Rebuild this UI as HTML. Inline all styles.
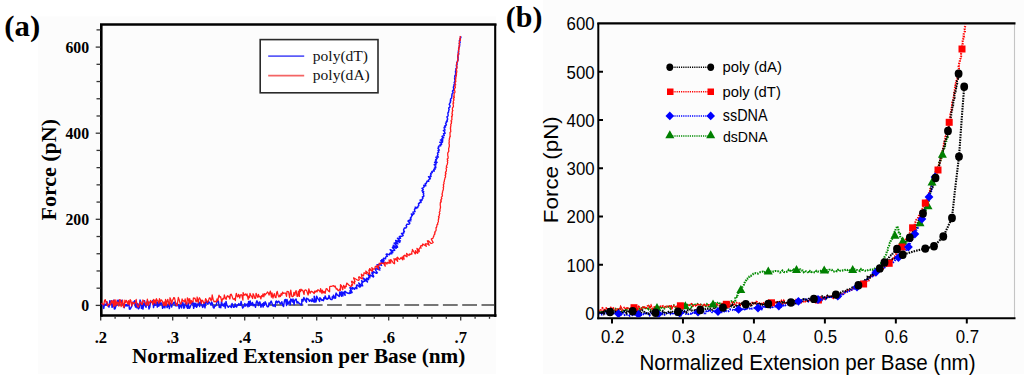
<!DOCTYPE html>
<html><head><meta charset="utf-8"><style>
html,body{margin:0;padding:0;background:#fff;overflow:hidden;}
svg{display:block;}
</style></head><body>
<svg width="1024" height="387" viewBox="0 0 1024 387">
<rect width="1024" height="387" fill="#fff"/>
<rect x="38" y="16.5" width="458" height="357.7" fill="#fcfcfc"/>
<rect x="543" y="0" width="481" height="374.2" fill="#fcfcfc"/>
<g stroke="#000" fill="none">
<line x1="101.3" y1="23.9" x2="101.3" y2="317" stroke-width="2.6"/>
<line x1="100" y1="315.5" x2="496.5" y2="315.5" stroke-width="2.6"/>
<line x1="100" y1="24.5" x2="496.5" y2="24.5" stroke-width="2.4"/>
<line x1="495.2" y1="24" x2="495.2" y2="317" stroke-width="2.1"/>
</g>
<g stroke="#333" fill="none">
<line x1="95.7" y1="305.40" x2="100.5" y2="305.40" stroke-width="1.3"/>
<line x1="96.5" y1="288.18" x2="100.5" y2="288.18" stroke-width="1.3"/>
<line x1="96.5" y1="270.96" x2="100.5" y2="270.96" stroke-width="1.3"/>
<line x1="96.5" y1="253.74" x2="100.5" y2="253.74" stroke-width="1.3"/>
<line x1="96.5" y1="236.52" x2="100.5" y2="236.52" stroke-width="1.3"/>
<line x1="95.7" y1="219.30" x2="100.5" y2="219.30" stroke-width="1.3"/>
<line x1="96.5" y1="202.08" x2="100.5" y2="202.08" stroke-width="1.3"/>
<line x1="96.5" y1="184.86" x2="100.5" y2="184.86" stroke-width="1.3"/>
<line x1="96.5" y1="167.64" x2="100.5" y2="167.64" stroke-width="1.3"/>
<line x1="96.5" y1="150.42" x2="100.5" y2="150.42" stroke-width="1.3"/>
<line x1="95.7" y1="133.20" x2="100.5" y2="133.20" stroke-width="1.3"/>
<line x1="96.5" y1="115.98" x2="100.5" y2="115.98" stroke-width="1.3"/>
<line x1="96.5" y1="98.76" x2="100.5" y2="98.76" stroke-width="1.3"/>
<line x1="96.5" y1="81.54" x2="100.5" y2="81.54" stroke-width="1.3"/>
<line x1="96.5" y1="64.32" x2="100.5" y2="64.32" stroke-width="1.3"/>
<line x1="95.7" y1="47.10" x2="100.5" y2="47.10" stroke-width="1.3"/>
<line x1="96.5" y1="29.88" x2="100.5" y2="29.88" stroke-width="1.3"/>
<line x1="100.70" y1="316.5" x2="100.70" y2="320.5" stroke-width="1.3"/>
<line x1="115.10" y1="316.5" x2="115.10" y2="318.8" stroke-width="1.3"/>
<line x1="129.50" y1="316.5" x2="129.50" y2="318.8" stroke-width="1.3"/>
<line x1="143.90" y1="316.5" x2="143.90" y2="318.8" stroke-width="1.3"/>
<line x1="158.30" y1="316.5" x2="158.30" y2="318.8" stroke-width="1.3"/>
<line x1="172.70" y1="316.5" x2="172.70" y2="320.5" stroke-width="1.3"/>
<line x1="187.10" y1="316.5" x2="187.10" y2="318.8" stroke-width="1.3"/>
<line x1="201.50" y1="316.5" x2="201.50" y2="318.8" stroke-width="1.3"/>
<line x1="215.90" y1="316.5" x2="215.90" y2="318.8" stroke-width="1.3"/>
<line x1="230.30" y1="316.5" x2="230.30" y2="318.8" stroke-width="1.3"/>
<line x1="244.70" y1="316.5" x2="244.70" y2="320.5" stroke-width="1.3"/>
<line x1="259.10" y1="316.5" x2="259.10" y2="318.8" stroke-width="1.3"/>
<line x1="273.50" y1="316.5" x2="273.50" y2="318.8" stroke-width="1.3"/>
<line x1="287.90" y1="316.5" x2="287.90" y2="318.8" stroke-width="1.3"/>
<line x1="302.30" y1="316.5" x2="302.30" y2="318.8" stroke-width="1.3"/>
<line x1="316.70" y1="316.5" x2="316.70" y2="320.5" stroke-width="1.3"/>
<line x1="331.10" y1="316.5" x2="331.10" y2="318.8" stroke-width="1.3"/>
<line x1="345.50" y1="316.5" x2="345.50" y2="318.8" stroke-width="1.3"/>
<line x1="359.90" y1="316.5" x2="359.90" y2="318.8" stroke-width="1.3"/>
<line x1="374.30" y1="316.5" x2="374.30" y2="318.8" stroke-width="1.3"/>
<line x1="388.70" y1="316.5" x2="388.70" y2="320.5" stroke-width="1.3"/>
<line x1="403.10" y1="316.5" x2="403.10" y2="318.8" stroke-width="1.3"/>
<line x1="417.50" y1="316.5" x2="417.50" y2="318.8" stroke-width="1.3"/>
<line x1="431.90" y1="316.5" x2="431.90" y2="318.8" stroke-width="1.3"/>
<line x1="446.30" y1="316.5" x2="446.30" y2="318.8" stroke-width="1.3"/>
<line x1="460.70" y1="316.5" x2="460.70" y2="320.5" stroke-width="1.3"/>
<line x1="475.10" y1="316.5" x2="475.10" y2="318.8" stroke-width="1.3"/>
<line x1="489.50" y1="316.5" x2="489.50" y2="318.8" stroke-width="1.3"/>
</g>
<line x1="103" y1="305" x2="494" y2="305" stroke="#767676" stroke-width="1.9" stroke-dasharray="14.8 4.5" stroke-dashoffset="7.5"/>
<path d="M101.50,304.50 L102.26,304.06 L103.01,305.05 L103.75,308.41 L104.52,304.19 L105.27,304.58 L106.03,305.32 L106.79,301.61 L107.54,304.63 L108.29,305.71 L109.04,307.21 L109.81,300.79 L110.56,302.71 L111.32,300.76 L112.06,307.38 L112.82,306.31 L113.59,300.32 L114.32,308.97 L115.08,308.81 L115.84,305.95 L116.60,305.60 L117.36,301.39 L118.12,300.08 L118.86,304.81 L119.63,300.49 L120.38,301.70 L121.13,302.18 L121.89,300.23 L122.64,304.22 L123.39,304.01 L124.14,307.71 L124.90,304.74 L125.65,305.85 L126.41,304.56 L127.16,306.06 L127.92,304.18 L128.68,302.53 L129.42,309.15 L130.17,309.13 L130.93,307.71 L131.69,306.49 L132.46,302.88 L133.21,302.10 L133.97,302.64 L134.73,300.63 L135.46,307.04 L136.23,303.67 L136.97,307.78 L137.74,303.55 L138.48,308.81 L139.24,307.79 L140.05,300.01 L140.80,301.94 L141.44,308.40 L142.27,304.36 L142.94,309.07 L143.79,303.72 L144.60,300.75 L145.26,305.88 L145.99,307.27 L146.83,302.60 L147.61,300.93 L148.33,303.21 L148.98,309.03 L149.77,307.15 L150.63,301.27 L151.36,302.47 L152.14,301.14 L152.90,300.78 L153.54,307.57 L154.39,301.89 L155.08,305.41 L155.86,304.39 L156.65,302.05 L157.32,307.04 L158.17,301.52 L158.84,306.25 L159.68,301.42 L160.39,304.39 L161.17,302.90 L161.92,303.33 L162.58,308.39 L163.36,307.19 L164.18,303.61 L164.86,307.81 L165.70,302.97 L166.43,304.30 L167.13,307.63 L167.91,306.11 L168.73,302.22 L169.37,308.64 L170.22,303.06 L170.97,303.40 L171.66,307.12 L172.47,303.94 L173.23,303.71 L174.02,302.12 L174.77,302.26 L175.46,305.82 L176.26,303.38 L176.97,305.98 L177.75,304.34 L178.50,304.94 L179.19,308.59 L180.00,305.18 L180.77,305.82 L181.56,307.91 L182.22,302.97 L182.97,302.75 L183.83,308.16 L184.57,307.50 L185.25,303.39 L185.99,302.95 L186.83,306.89 L187.61,308.32 L188.26,302.95 L189.12,308.36 L189.87,307.85 L190.58,305.83 L191.31,304.51 L192.02,302.21 L192.76,301.72 L193.65,308.36 L194.30,303.13 L195.12,306.47 L195.81,303.23 L196.65,307.30 L197.37,305.65 L198.08,303.45 L198.82,302.59 L199.65,306.49 L200.32,301.79 L201.09,302.92 L201.90,305.29 L202.69,307.38 L203.41,305.65 L204.12,303.23 L204.97,307.81 L205.62,302.66 L206.35,301.29 L207.14,303.10 L207.92,304.35 L208.62,301.56 L209.39,302.38 L210.17,303.75 L210.95,305.20 L211.65,302.01 L212.43,303.66 L213.26,307.45 L214.03,308.08 L214.74,305.74 L215.50,305.97 L216.24,305.18 L216.93,301.97 L217.67,301.20 L218.42,301.06 L219.30,307.47 L220.02,305.95 L220.77,307.83 L221.49,301.05 L222.27,305.47 L223.02,304.36 L223.78,306.14 L224.52,303.17 L225.30,308.07 L226.02,301.41 L226.79,304.80 L227.56,306.17 L228.32,307.34 L229.07,306.16 L229.82,305.92 L230.58,306.56 L231.34,307.43 L232.07,303.37 L232.84,305.77 L233.60,307.32 L234.35,307.10 L235.09,303.83 L235.86,306.51 L236.62,307.03 L237.36,304.94 L238.12,305.31 L238.86,303.56 L239.63,305.00 L240.38,305.18 L241.12,301.37 L241.89,305.39 L242.66,307.94 L243.41,307.12 L244.16,306.02 L244.90,303.57 L245.67,306.06 L246.42,304.95 L247.17,303.94 L247.94,306.80 L248.66,301.36 L249.44,306.15 L250.17,300.96 L250.95,305.07 L251.70,304.20 L252.44,302.40 L253.21,305.76 L253.96,304.31 L254.72,305.15 L255.49,307.35 L256.22,302.56 L256.96,300.80 L257.73,302.88 L258.50,305.59 L259.23,302.16 L259.93,301.92 L260.92,307.17 L261.58,305.36 L262.24,303.75 L263.18,306.94 L263.70,302.84 L264.60,305.23 L265.16,301.83 L266.01,303.46 L266.92,306.11 L267.72,306.84 L268.46,306.56 L269.01,302.95 L269.85,304.33 L270.49,302.37 L271.17,301.03 L272.07,303.58 L272.97,305.99 L273.73,306.03 L274.43,304.99 L275.28,306.67 L275.76,301.78 L276.47,300.97 L277.34,302.95 L278.02,301.64 L278.75,301.16 L279.59,302.55 L280.43,304.03 L281.13,303.04 L281.81,301.71 L282.78,305.44 L283.60,306.42 L284.13,302.57 L284.73,299.81 L285.47,299.46 L286.57,305.46 L286.98,299.44 L288.01,304.19 L288.71,303.16 L289.36,301.23 L290.31,304.66 L290.74,299.06 L291.55,299.86 L292.43,302.11 L293.01,298.97 L294.10,304.72 L294.61,300.42 L295.32,299.68 L296.04,298.96 L297.03,303.10 L297.71,301.75 L298.54,303.02 L299.31,303.16 L300.31,304.19 L301.48,305.05 L301.82,302.96 L301.84,299.38 L303.04,301.15 L303.35,298.89 L303.86,297.54 L305.34,300.62 L306.49,302.15 L306.43,298.22 L307.34,298.71 L308.22,299.05 L309.54,301.36 L310.03,299.94 L310.88,300.51 L311.79,301.41 L312.20,298.72 L313.37,301.45 L314.25,302.16 L314.20,296.21 L315.82,302.13 L316.38,300.52 L316.55,296.19 L317.65,298.39 L318.59,299.51 L319.64,301.43 L319.90,297.67 L320.83,298.70 L321.85,300.44 L322.55,299.84 L323.45,300.61 L323.82,297.65 L324.74,298.65 L325.14,295.89 L326.34,298.86 L327.19,299.32 L327.81,298.16 L328.64,298.51 L328.99,295.40 L330.43,299.36 L331.37,299.65 L332.11,299.46 L332.26,296.72 L333.34,298.04 L333.45,295.12 L334.97,298.40 L335.64,297.92 L335.70,294.78 L336.09,293.06 L337.30,294.99 L338.19,295.46 L339.21,296.57 L339.58,294.76 L339.71,291.91 L341.48,296.31 L341.23,291.78 L342.94,295.92 L342.85,292.09 L343.81,292.87 L345.14,295.35 L344.67,291.51 L345.01,291.31 L346.85,292.76 L348.16,293.39 L349.18,293.57 L349.34,292.40 L350.81,293.28 L350.00,290.57 L352.12,292.47 L349.98,287.69 L351.06,287.97 L352.69,289.10 L352.57,287.49 L354.63,289.29 L354.99,288.43 L355.26,287.43 L356.94,288.64 L356.67,286.79 L356.52,285.12 L357.39,285.06 L359.53,287.00 L360.36,286.86 L358.77,282.95 L361.49,285.79 L362.66,285.87 L361.68,283.23 L362.45,282.97 L361.61,280.77 L363.47,281.83 L363.93,281.20 L364.90,281.19 L363.28,278.03 L367.46,281.90 L366.31,279.32 L366.45,278.31 L368.57,279.67 L368.24,278.09 L368.55,277.28 L369.90,277.72 L368.09,274.34 L370.48,276.05 L370.59,274.98 L373.25,277.01 L373.70,276.37 L371.78,272.87 L373.15,273.33 L372.41,271.24 L374.16,272.18 L376.36,273.32 L377.37,272.88 L375.84,270.70 L375.56,269.51 L375.44,268.44 L377.93,269.41 L379.85,269.94 L376.56,266.39 L380.11,268.19 L377.01,264.79 L378.29,264.82 L378.92,264.33 L381.57,265.43 L380.32,263.47 L380.95,262.99 L382.67,263.36 L380.71,260.85 L384.14,262.56 L381.74,259.71 L384.05,260.54 L383.28,258.98 L383.50,258.17 L385.56,258.76 L385.58,257.80 L385.76,256.96 L386.41,256.48 L387.43,256.28 L386.14,254.32 L386.82,253.87 L389.33,254.80 L389.84,254.21 L389.79,253.20 L391.79,253.75 L391.12,252.26 L392.76,252.53 L390.25,249.65 L393.17,250.85 L393.96,250.44 L394.85,250.14 L392.41,247.49 L392.84,246.86 L396.27,248.33 L393.24,245.28 L397.51,247.34 L397.40,246.33 L394.14,243.12 L395.09,242.85 L397.93,243.90 L396.07,241.67 L395.71,240.49 L399.76,242.39 L398.18,240.36 L400.47,240.93 L397.43,238.22 L399.26,238.38 L400.59,238.26 L399.35,236.66 L400.18,236.25 L401.73,236.25 L402.67,235.90 L403.19,235.32 L401.49,233.47 L402.82,233.34 L403.82,233.03 L403.58,232.00 L404.40,231.59 L403.58,230.23 L403.67,229.40 L404.14,228.79 L404.35,228.02 L405.98,228.07 L406.27,227.35 L406.79,226.76 L406.12,225.54 L406.55,224.90 L406.94,224.21 L408.89,224.28 L409.61,223.75 L409.80,222.96 L408.04,221.23 L408.30,220.48 L410.89,220.85 L410.00,219.54 L411.11,219.20 L410.34,217.95 L411.04,217.41 L411.51,216.76 L411.64,215.94 L412.41,215.44 L411.29,213.96 L413.38,214.21 L414.11,213.73 L412.89,212.13 L413.94,211.84 L415.02,211.56 L414.60,210.42 L414.47,209.45 L414.79,208.73 L416.02,208.54 L415.20,207.17 L417.72,207.72 L417.88,206.92 L418.03,206.11 L418.80,205.65 L418.63,204.66 L418.47,203.67 L419.33,203.26 L419.49,202.45 L421.04,202.43 L421.00,201.50 L420.06,200.06 L422.04,200.29 L422.02,199.38 L422.50,198.75 L422.97,198.12 L422.35,196.92 L423.78,196.33 L423.80,195.56 L423.35,194.74 L423.62,193.99 L423.69,193.22 L422.75,192.36 L423.71,191.67 L421.96,190.74 L422.78,190.04 L423.21,189.30 L422.00,188.42 L423.03,187.73 L423.87,187.13 L424.20,186.55 L423.69,185.32 L425.77,185.76 L425.53,184.71 L425.16,183.57 L426.33,183.42 L426.53,182.65 L426.85,181.96 L426.92,181.11 L428.77,181.39 L428.34,180.21 L428.89,179.65 L429.45,179.09 L430.39,178.76 L428.55,176.66 L430.36,176.90 L431.07,176.43 L430.35,175.05 L431.11,174.62 L430.70,173.43 L431.46,173.00 L432.29,172.65 L431.78,171.72 L432.43,171.15 L434.41,171.04 L433.71,170.01 L433.85,169.26 L435.31,168.97 L434.50,167.90 L435.87,167.58 L435.17,166.54 L435.87,165.99 L434.16,164.67 L435.74,164.31 L436.36,163.66 L434.58,162.46 L437.17,162.27 L435.25,161.03 L436.27,160.48 L435.62,159.54 L436.69,159.00 L437.18,158.32 L435.85,157.22 L438.44,157.03 L437.18,155.95 L437.65,155.27 L438.02,154.56 L437.56,153.66 L437.52,152.86 L438.70,152.35 L438.62,151.54 L438.03,150.61 L439.39,150.15 L438.47,149.10 L437.93,148.14 L438.76,147.57 L438.44,146.67 L438.96,146.02 L440.78,145.75 L440.02,144.72 L441.60,144.38 L441.41,143.52 L439.75,142.23 L442.49,142.22 L442.59,141.44 L440.46,140.02 L442.92,139.93 L441.85,138.82 L442.20,138.11 L443.75,137.76 L442.00,136.44 L442.97,135.92 L444.30,135.50 L443.94,134.59 L443.47,133.65 L445.06,133.31 L444.84,132.44 L444.48,131.53 L443.38,130.41 L444.97,130.07 L444.73,129.19 L444.27,128.25 L444.08,127.39 L445.58,127.02 L444.61,126.06 L445.63,125.49 L446.39,124.86 L445.94,124.01 L445.55,123.17 L446.57,122.59 L446.27,121.77 L447.40,121.21 L446.86,120.34 L447.50,119.70 L447.59,118.95 L447.47,118.16 L447.03,117.30 L447.02,116.53 L448.08,115.97 L448.10,115.20 L448.05,114.42 L447.88,113.62 L447.92,112.86 L448.55,112.21 L448.55,111.45 L448.72,110.71 L448.91,109.98 L449.19,109.26 L448.67,108.40 L448.88,107.67 L449.88,107.09 L449.95,106.33 L450.04,105.60 L449.24,104.63 L449.44,103.90 L449.86,103.22 L450.22,102.53 L450.62,101.84 L450.19,100.96 L450.88,100.34 L450.51,99.48 L450.70,98.74 L451.57,98.17 L451.60,97.40 L451.87,96.68 L451.74,95.87 L452.04,95.16 L451.91,94.35 L452.24,93.65 L452.88,93.02 L453.17,92.31 L452.45,91.36 L452.68,90.63 L453.66,90.07 L453.55,89.28 L453.83,88.56 L453.28,87.72 L453.63,87.02 L453.54,86.24 L454.30,85.60 L453.88,84.78 L454.33,84.08 L454.83,83.40 L454.15,82.54 L454.52,81.84 L454.86,81.13 L455.17,80.41 L454.69,79.59 L454.73,78.84 L454.51,78.05 L455.54,77.43 L454.70,76.56 L454.81,75.82 L455.49,75.15 L455.50,74.40 L455.85,73.69 L455.49,72.88 L456.16,72.22 L455.44,71.36 L455.71,70.64 L456.35,69.97 L455.76,69.13 L456.13,68.42 L456.74,67.75 L456.81,67.00 L456.42,66.19 L456.36,65.43 L456.73,64.72 L457.27,64.04 L456.94,63.22 L456.73,62.43 L457.53,61.76 L457.46,60.98 L457.97,60.28 L458.09,59.52 L458.15,58.76 L457.68,57.94 L458.21,57.23 L457.71,56.40 L457.82,55.65 L458.02,54.90 L458.75,54.23 L458.79,53.46 L458.12,52.61 L458.35,51.87 L458.45,51.12 L458.54,50.36 L458.67,49.61 L458.76,48.85 L458.62,48.06 L459.16,47.36 L459.53,46.64 L459.32,45.84 L459.77,45.13 L459.53,44.33 L459.17,43.52 L459.96,42.85 L460.20,42.11 L459.58,41.26 L459.36,40.47 L460.05,39.79 L460.17,39.03 L460.30,38.28 L460.87,37.58 L460.59,36.78 L460.50,36.00" fill="none" stroke="#1010ff" stroke-width="1.45" stroke-linejoin="round"/>
<path d="M101.50,303.50 L102.25,303.29 L103.02,304.75 L103.78,304.81 L104.50,300.62 L105.24,299.56 L106.02,302.46 L106.77,301.65 L107.56,305.94 L108.31,304.97 L109.06,304.25 L109.81,303.90 L110.57,304.72 L111.29,300.59 L112.06,302.94 L112.80,300.71 L113.60,306.65 L114.31,299.87 L115.11,305.94 L115.82,299.99 L116.61,304.88 L117.34,302.07 L118.10,302.61 L118.88,306.10 L119.59,299.51 L120.35,299.84 L121.15,306.67 L121.88,303.41 L122.61,300.06 L123.42,307.23 L124.17,306.90 L124.88,300.22 L125.65,302.70 L126.39,300.39 L127.15,301.80 L127.93,304.27 L128.66,300.60 L129.44,304.86 L130.16,299.69 L130.92,300.64 L131.72,305.79 L132.44,302.46 L133.20,302.60 L133.97,304.01 L134.71,303.06 L135.46,302.31 L136.20,299.47 L136.99,305.03 L137.76,306.96 L138.52,307.02 L139.26,304.51 L139.97,302.05 L140.70,302.07 L141.59,304.64 L142.33,304.48 L142.86,299.96 L143.67,300.89 L144.47,301.88 L145.29,303.03 L146.16,305.38 L146.79,302.86 L147.36,299.05 L148.43,305.36 L149.03,302.19 L149.82,302.86 L150.46,300.45 L151.29,302.05 L152.03,301.70 L152.94,304.73 L153.43,299.35 L154.36,302.88 L154.97,299.87 L155.93,303.97 L156.42,298.67 L157.27,300.55 L158.05,301.05 L158.92,303.35 L159.44,298.64 L160.36,301.86 L161.02,299.82 L161.80,300.36 L162.63,301.88 L163.58,305.70 L164.14,301.84 L165.09,305.60 L165.53,299.26 L166.58,305.27 L167.12,300.76 L167.80,299.32 L168.78,303.75 L169.60,305.02 L169.99,297.75 L170.85,299.80 L171.81,303.78 L172.39,300.31 L173.10,299.47 L173.77,297.58 L174.53,297.79 L175.52,302.38 L176.42,305.25 L177.18,305.33 L177.74,301.34 L178.30,297.47 L179.17,299.82 L180.14,303.49 L180.95,303.79 L181.59,302.20 L182.11,298.88 L183.03,301.20 L183.76,300.75 L184.60,301.89 L185.15,298.92 L186.30,304.33 L187.02,303.85 L187.35,297.96 L188.18,298.93 L189.27,303.52 L189.68,298.72 L190.82,303.98 L191.33,300.50 L192.19,301.89 L192.95,301.90 L193.42,297.93 L194.22,298.45 L194.95,298.15 L195.96,301.51 L196.72,301.54 L197.15,297.00 L198.34,302.97 L198.82,299.20 L199.47,297.71 L200.34,299.21 L201.41,303.49 L201.92,300.09 L202.71,300.55 L203.64,302.85 L204.42,303.14 L205.06,301.47 L205.61,298.68 L206.47,299.99 L207.40,302.43 L208.09,301.48 L208.73,299.76 L209.35,297.85 L210.11,297.96 L211.08,300.84 L211.73,299.41 L212.17,294.99 L213.33,300.47 L214.20,301.96 L214.89,301.06 L215.70,301.80 L216.46,301.85 L217.00,298.80 L217.90,300.77 L218.42,297.45 L219.01,295.15 L219.91,297.13 L220.64,296.74 L221.78,301.64 L222.38,299.63 L223.04,298.40 L223.85,298.98 L224.30,294.96 L225.30,298.16 L226.16,299.43 L226.73,296.93 L227.39,295.69 L228.24,296.91 L228.95,296.19 L229.93,299.02 L230.34,294.62 L231.07,294.16 L231.96,295.87 L232.95,298.87 L233.75,299.32 L234.44,298.46 L235.36,300.60 L235.77,296.00 L236.31,293.26 L237.35,296.86 L238.08,296.45 L238.67,294.28 L239.73,298.11 L240.28,295.45 L240.97,294.58 L241.78,295.23 L242.92,300.09 L243.09,292.56 L244.06,295.31 L244.77,294.61 L245.48,293.93 L246.37,295.71 L247.00,293.96 L248.18,299.48 L248.68,296.09 L249.56,297.60 L249.98,293.27 L250.92,295.62 L251.76,296.69 L252.66,298.52 L253.05,293.73 L253.94,295.35 L254.94,298.44 L255.68,298.20 L256.06,293.32 L257.00,295.74 L257.90,297.46 L258.43,294.48 L259.35,296.64 L260.08,296.50 L260.93,298.94 L261.53,295.56 L262.33,296.54 L262.96,293.86 L263.86,296.88 L264.46,293.56 L265.28,294.95 L265.98,293.80 L266.72,293.34 L267.41,291.93 L268.20,292.61 L269.07,295.12 L269.72,292.75 L270.39,291.07 L271.44,297.09 L271.99,292.91 L273.00,298.08 L273.62,295.34 L274.30,293.63 L275.24,297.46 L276.00,297.62 L276.54,292.98 L277.22,291.39 L278.17,295.47 L279.00,297.04 L279.66,295.13 L280.49,296.50 L281.10,293.50 L281.93,295.10 L282.55,292.23 L283.36,293.34 L284.11,293.09 L284.86,293.10 L285.62,293.18 L286.53,296.40 L287.04,291.27 L287.81,291.52 L288.59,291.88 L289.61,297.57 L290.20,293.95 L290.77,290.16 L291.83,296.37 L292.59,296.64 L293.33,296.19 L293.91,292.46 L294.81,295.43 L295.40,291.96 L296.09,290.58 L297.12,296.36 L297.86,296.07 L298.38,291.06 L299.39,296.37 L299.62,289.52 L300.54,291.67 L300.96,289.22 L301.92,290.35 L302.68,290.17 L304.10,294.43 L304.37,291.00 L305.02,290.04 L305.78,289.88 L306.70,290.77 L308.12,295.01 L308.59,292.88 L308.76,288.77 L310.21,293.26 L310.81,291.98 L311.48,291.18 L312.34,291.70 L313.24,292.57 L314.18,293.64 L314.62,291.20 L315.53,292.12 L316.12,290.68 L317.07,291.89 L317.57,289.84 L318.37,289.94 L319.25,290.64 L320.24,292.10 L320.52,288.54 L322.01,293.55 L322.30,290.01 L323.47,292.79 L324.06,291.37 L325.12,293.37 L325.59,291.09 L326.07,288.96 L326.82,288.68 L327.81,290.18 L328.74,291.23 L329.61,291.79 L329.69,286.80 L330.41,286.29 L331.22,286.45 L331.97,286.20 L332.73,285.92 L333.46,285.53 L334.44,286.85 L335.10,285.93 L336.36,289.22 L337.07,288.70 L338.14,290.67 L338.91,290.53 L339.51,289.15 L340.45,290.24 L340.45,284.66 L341.40,285.73 L342.76,289.77 L343.15,286.98 L343.70,285.28 L344.94,288.44 L345.34,286.37 L346.29,286.59 L346.18,285.02 L346.58,284.22 L346.71,283.02 L349.08,285.19 L350.88,286.49 L351.64,286.23 L351.55,284.69 L352.75,285.10 L351.50,281.82 L351.93,281.07 L354.66,283.77 L354.23,281.72 L355.10,281.64 L353.57,277.93 L354.93,278.58 L356.42,279.42 L357.89,280.23 L358.85,280.27 L359.27,279.50 L358.53,276.99 L359.32,276.77 L361.56,278.74 L362.57,278.98 L361.61,276.03 L361.36,274.14 L363.35,275.95 L363.73,275.10 L363.85,273.81 L364.09,272.74 L365.23,273.14 L366.59,273.90 L365.74,271.02 L367.68,272.74 L369.61,274.46 L369.62,273.00 L368.75,270.07 L369.92,270.53 L369.59,268.51 L372.22,271.37 L372.55,270.44 L371.78,267.68 L373.60,269.21 L374.40,269.06 L375.00,268.57 L375.04,267.15 L375.48,266.40 L376.27,266.24 L378.93,269.14 L377.51,265.32 L378.70,265.81 L379.22,265.19 L379.23,263.20 L380.59,264.21 L381.03,262.88 L381.97,263.35 L382.79,263.41 L383.51,263.10 L385.20,266.30 L384.93,262.38 L385.73,262.38 L387.00,264.06 L387.34,262.34 L388.28,262.82 L389.23,263.38 L389.07,259.85 L390.77,263.11 L390.62,259.60 L391.49,260.29 L393.45,263.09 L394.58,263.76 L394.50,261.72 L393.96,258.66 L395.30,259.81 L395.61,258.65 L397.67,261.40 L396.87,257.76 L397.47,257.25 L399.24,259.36 L399.93,259.05 L400.51,258.48 L400.92,257.56 L402.79,259.88 L402.26,256.83 L404.12,259.14 L403.47,255.85 L404.34,255.94 L404.77,255.05 L406.34,256.69 L407.12,256.58 L406.57,253.46 L407.97,254.72 L409.17,255.50 L409.32,253.95 L410.42,254.52 L411.01,253.96 L411.95,254.18 L411.78,251.90 L412.37,251.32 L412.39,249.46 L415.20,253.89 L415.66,253.03 L415.39,250.52 L417.50,253.37 L418.05,252.70 L416.92,248.27 L419.30,251.71 L418.99,249.12 L419.43,248.22 L420.00,247.61 L421.09,248.14 L420.39,246.14 L420.45,245.96 L421.25,245.64 L422.62,245.80 L422.44,244.63 L422.78,243.91 L426.30,246.31 L425.31,243.75 L426.37,243.86 L427.43,243.98 L429.19,245.22 L427.36,240.79 L428.33,240.76 L431.06,243.51 L431.92,243.32 L433.21,242.55 L431.80,240.18 L431.27,239.05 L432.05,238.56 L433.05,238.18 L433.26,237.42 L433.41,236.62 L433.97,236.03 L433.84,235.09 L434.43,234.51 L435.01,233.89 L434.47,232.92 L435.18,232.34 L434.99,231.49 L435.84,230.94 L436.06,230.21 L436.10,229.43 L436.12,228.64 L435.95,227.78 L436.63,227.19 L436.72,226.42 L436.98,225.70 L436.89,224.90 L437.86,224.31 L437.61,223.47 L437.80,222.70 L438.22,221.99 L438.42,221.23 L438.23,220.39 L438.37,219.62 L438.81,218.91 L438.49,218.05 L439.15,217.38 L438.44,216.45 L439.34,215.82 L439.23,215.00 L439.42,214.24 L439.89,213.51 L439.22,212.63 L439.51,211.88 L440.00,211.15 L440.04,210.36 L439.92,209.56 L440.27,208.81 L440.28,208.02 L440.57,207.27 L440.45,206.46 L440.26,205.65 L440.29,204.86 L440.19,204.06 L440.33,203.29 L440.35,202.50 L441.37,201.84 L440.64,200.95 L441.23,200.27 L440.90,199.44 L441.85,198.83 L441.55,198.01 L441.33,197.19 L442.10,196.56 L442.26,195.81 L442.51,195.08 L441.90,194.20 L442.20,193.48 L442.59,192.78 L442.35,191.96 L442.76,191.26 L443.02,190.53 L443.20,189.79 L443.40,189.06 L443.46,188.29 L443.13,187.46 L443.72,186.79 L443.53,185.99 L443.40,185.20 L443.37,184.42 L444.08,183.77 L443.95,182.98 L443.81,182.19 L444.32,181.50 L444.37,180.74 L444.40,179.97 L444.76,179.26 L444.85,178.51 L444.97,177.75 L445.54,177.08 L445.58,176.31 L445.10,175.47 L445.79,174.81 L445.36,173.97 L446.10,173.32 L445.35,172.43 L445.73,171.72 L446.45,171.07 L446.31,170.28 L446.48,169.53 L446.10,168.70 L446.14,167.94 L447.09,167.32 L446.33,166.43 L446.56,165.70 L446.93,164.99 L447.39,164.28 L447.33,163.51 L447.72,162.79 L447.58,162.01 L447.31,161.22 L447.86,160.51 L447.35,159.70 L447.16,158.92 L448.14,158.25 L448.13,157.49 L447.99,156.71 L447.89,155.94 L447.69,155.16 L447.78,154.41 L447.70,153.64 L447.80,152.88 L448.26,152.17 L448.75,151.45 L448.86,150.70 L448.52,149.91 L448.76,149.17 L448.63,148.39 L449.01,147.67 L449.02,146.91 L449.37,146.18 L449.31,145.41 L449.21,144.64 L449.20,143.88 L448.86,143.08 L449.24,142.36 L449.29,141.60 L449.07,140.81 L449.19,140.06 L449.48,139.33 L449.32,138.55 L449.84,137.84 L449.62,137.06 L450.35,136.37 L450.13,135.58 L450.04,134.81 L450.03,134.05 L450.06,133.29 L449.95,132.52 L450.78,131.84 L450.81,131.08 L450.62,130.30 L450.70,129.54 L450.27,128.74 L450.74,128.02 L450.44,127.23 L450.67,126.49 L451.01,125.76 L450.67,124.97 L450.82,124.21 L451.39,123.50 L451.23,122.72 L451.72,122.00 L451.07,121.16 L451.09,120.39 L452.01,119.72 L451.77,118.92 L451.94,118.17 L451.88,117.40 L451.56,116.59 L452.47,115.92 L452.07,115.11 L452.56,114.39 L451.89,113.55 L452.10,112.80 L452.45,112.07 L452.24,111.28 L452.93,110.58 L452.41,109.76 L452.32,108.98 L452.48,108.22 L452.67,107.48 L453.43,106.79 L453.44,106.02 L453.32,105.24 L453.16,104.45 L452.86,103.65 L453.73,102.97 L453.11,102.13 L453.26,101.38 L453.58,100.65 L454.09,99.93 L453.49,99.10 L453.46,98.32 L454.38,97.65 L453.57,96.79 L454.37,96.11 L453.86,95.29 L454.10,94.54 L454.10,93.77 L454.41,93.04 L454.97,92.33 L454.97,91.56 L454.75,90.76 L454.39,89.96 L454.54,89.21 L454.73,88.45 L455.29,87.73 L455.47,86.98 L454.65,86.14 L455.02,85.40 L455.71,84.69 L454.97,83.85 L454.96,83.08 L455.21,82.33 L455.90,81.62 L455.34,80.80 L455.86,80.08 L455.33,79.26 L455.93,78.54 L455.51,77.74 L455.99,77.01 L456.21,76.26 L456.41,75.50 L456.03,74.70 L456.64,73.98 L456.13,73.17 L456.74,72.45 L456.77,71.68 L456.91,70.92 L456.09,70.08 L456.32,69.33 L456.81,68.60 L457.06,67.86 L456.50,67.04 L457.07,66.32 L456.85,65.53 L456.44,64.72 L456.59,63.96 L456.61,63.18 L456.92,62.45 L457.71,61.78 L457.56,61.00 L457.83,60.26 L457.98,59.51 L457.56,58.69 L457.95,57.97 L458.00,57.21 L458.14,56.46 L457.64,55.63 L458.52,54.97 L457.89,54.12 L458.27,53.40 L458.61,52.67 L458.76,51.92 L458.93,51.18 L458.52,50.36 L458.60,49.60 L459.12,48.89 L458.54,48.05 L459.45,47.40 L458.99,46.57 L459.16,45.82 L459.18,45.06 L459.67,44.35 L459.23,43.53 L459.29,42.77 L459.31,42.00 L459.47,41.25 L460.05,40.56 L460.51,39.84 L459.63,38.97 L460.18,38.27 L460.17,37.50 L460.22,36.73 L460.50,36.00" fill="none" stroke="#ff1a1a" stroke-width="1.25" stroke-linejoin="round"/>
<rect x="260.2" y="39.6" width="117.8" height="53.2" fill="#fff" stroke="#2a2a2a" stroke-width="1.6"/>
<line x1="268.2" y1="56.1" x2="304.2" y2="56.1" stroke="#5c5cf8" stroke-width="1.7"/>
<line x1="268.2" y1="75.6" x2="304.2" y2="75.6" stroke="#f46464" stroke-width="1.7"/>
<text transform="matrix(0.15559 0 0 0.14778 312.789 60.797)" font-family="Liberation Serif" font-weight="normal" font-size="100" fill="#111">poly(dT)</text>
<text transform="matrix(0.15556 0 0 0.15111 312.789 80.027)" font-family="Liberation Serif" font-weight="normal" font-size="100" fill="#111">poly(dA)</text>
<text transform="matrix(0.15800 0 0 0.17400 81.232 311.081)" font-family="Liberation Serif" font-weight="bold" font-size="100" fill="#000">0</text>
<text transform="matrix(0.15800 0 0 0.17400 65.432 224.981)" font-family="Liberation Serif" font-weight="bold" font-size="100" fill="#000">200</text>
<text transform="matrix(0.15800 0 0 0.17400 65.432 138.881)" font-family="Liberation Serif" font-weight="bold" font-size="100" fill="#000">400</text>
<text transform="matrix(0.15800 0 0 0.17400 65.432 52.781)" font-family="Liberation Serif" font-weight="bold" font-size="100" fill="#000">600</text>
<text transform="matrix(0.16600 0 0 0.17500 94.675 342.700)" font-family="Liberation Serif" font-weight="bold" font-size="100" fill="#000">.2</text>
<text transform="matrix(0.16600 0 0 0.17500 166.592 342.613)" font-family="Liberation Serif" font-weight="bold" font-size="100" fill="#000">.3</text>
<text transform="matrix(0.16600 0 0 0.17500 238.509 342.700)" font-family="Liberation Serif" font-weight="bold" font-size="100" fill="#000">.4</text>
<text transform="matrix(0.16600 0 0 0.17500 310.675 342.700)" font-family="Liberation Serif" font-weight="bold" font-size="100" fill="#000">.5</text>
<text transform="matrix(0.16600 0 0 0.17500 382.592 342.613)" font-family="Liberation Serif" font-weight="bold" font-size="100" fill="#000">.6</text>
<text transform="matrix(0.16600 0 0 0.17500 454.509 342.700)" font-family="Liberation Serif" font-weight="bold" font-size="100" fill="#000">.7</text>
<text transform="matrix(0.21234 0 0 0.21000 131.975 363.290)" font-family="Liberation Serif" font-weight="bold" font-size="100" fill="#000">Normalized Extension per Base (nm)</text>
<text transform="matrix(0 -0.21956 0.20000 0 55.800 220.439)" font-family="Liberation Serif" font-weight="bold" font-size="100" fill="#000">Force (pN)</text>
<text transform="matrix(0.30833 0 0 0.30333 4.267 35.930)" font-family="Liberation Serif" font-weight="bold" font-size="100" fill="#000">(a)</text>
<text transform="matrix(0.29912 0 0 0.30333 505.804 26.930)" font-family="Liberation Serif" font-weight="bold" font-size="100" fill="#000">(b)</text>
<line x1="1014.5" y1="24" x2="1014.5" y2="318" stroke="#c4c4c4" stroke-width="1.1"/>
<g stroke="#000" fill="none">
<line x1="598.3" y1="23" x2="598.3" y2="319.2" stroke-width="2"/>
<line x1="597.3" y1="318.2" x2="1015.5" y2="318.2" stroke-width="2"/>
<line x1="597.3" y1="23.3" x2="1015.5" y2="23.3" stroke-width="2.3"/>
<line x1="598" y1="313.00" x2="603" y2="313.00" stroke-width="2"/>
<line x1="598" y1="264.75" x2="603" y2="264.75" stroke-width="2"/>
<line x1="598" y1="216.50" x2="603" y2="216.50" stroke-width="2"/>
<line x1="598" y1="168.25" x2="603" y2="168.25" stroke-width="2"/>
<line x1="598" y1="120.00" x2="603" y2="120.00" stroke-width="2"/>
<line x1="598" y1="71.75" x2="603" y2="71.75" stroke-width="2"/>
<line x1="612.00" y1="318" x2="612.00" y2="323.5" stroke-width="2"/>
<line x1="682.96" y1="318" x2="682.96" y2="323.5" stroke-width="2"/>
<line x1="753.92" y1="318" x2="753.92" y2="323.5" stroke-width="2"/>
<line x1="824.88" y1="318" x2="824.88" y2="323.5" stroke-width="2"/>
<line x1="895.84" y1="318" x2="895.84" y2="323.5" stroke-width="2"/>
<line x1="966.80" y1="318" x2="966.80" y2="323.5" stroke-width="2"/>
</g>
<text transform="matrix(0.16800 0 0 0.17700 585.264 319.906)" font-family="Liberation Sans" font-weight="normal" font-size="100" fill="#000">0</text>
<text transform="matrix(0.16800 0 0 0.17700 566.616 271.656)" font-family="Liberation Sans" font-weight="normal" font-size="100" fill="#000">100</text>
<text transform="matrix(0.16800 0 0 0.17700 566.616 223.407)" font-family="Liberation Sans" font-weight="normal" font-size="100" fill="#000">200</text>
<text transform="matrix(0.16800 0 0 0.17700 566.616 175.157)" font-family="Liberation Sans" font-weight="normal" font-size="100" fill="#000">300</text>
<text transform="matrix(0.16800 0 0 0.17700 566.616 126.906)" font-family="Liberation Sans" font-weight="normal" font-size="100" fill="#000">400</text>
<text transform="matrix(0.16800 0 0 0.17700 566.616 78.656)" font-family="Liberation Sans" font-weight="normal" font-size="100" fill="#000">500</text>
<text transform="matrix(0.16800 0 0 0.17700 566.616 30.407)" font-family="Liberation Sans" font-weight="normal" font-size="100" fill="#000">600</text>
<text transform="matrix(0.16800 0 0 0.17700 600.908 342.906)" font-family="Liberation Sans" font-weight="normal" font-size="100" fill="#000">0.2</text>
<text transform="matrix(0.16800 0 0 0.17700 671.784 342.906)" font-family="Liberation Sans" font-weight="normal" font-size="100" fill="#000">0.3</text>
<text transform="matrix(0.16800 0 0 0.17700 742.660 342.906)" font-family="Liberation Sans" font-weight="normal" font-size="100" fill="#000">0.4</text>
<text transform="matrix(0.16800 0 0 0.17700 813.704 342.906)" font-family="Liberation Sans" font-weight="normal" font-size="100" fill="#000">0.5</text>
<text transform="matrix(0.16800 0 0 0.17700 884.664 342.906)" font-family="Liberation Sans" font-weight="normal" font-size="100" fill="#000">0.6</text>
<text transform="matrix(0.16800 0 0 0.17700 955.708 342.906)" font-family="Liberation Sans" font-weight="normal" font-size="100" fill="#000">0.7</text>
<text transform="matrix(0.20571 0 0 0.22872 639.504 369.997)" font-family="Liberation Sans" font-weight="normal" font-size="100" fill="#000">Normalized Extension per Base (nm)</text>
<text transform="matrix(0 -0.22392 0.20000 0 558.400 223.191)" font-family="Liberation Sans" font-weight="normal" font-size="100" fill="#000">Force (pN)</text>
<svg x="599.3" y="24.7" width="414.7" height="292.5" overflow="hidden"><g transform="translate(-599.3,-24.7)">
<path d="M599.00,312.00 L600.12,310.83 L601.47,312.40 L602.66,312.12 L603.82,311.52 L604.96,310.58 L606.32,312.31 L607.53,312.26 L608.66,311.21 L609.86,311.09 L611.00,310.12 L612.14,309.28 L613.45,310.35 L614.71,310.93 L615.78,309.18 L617.18,311.38 L618.24,309.49 L619.44,309.39 L620.60,308.68 L622.07,311.62 L623.20,310.69 L624.45,311.02 L625.58,310.09 L626.63,308.14 L627.92,308.97 L629.17,309.41 L630.27,308.09 L631.71,310.65 L632.76,308.68 L633.92,307.90 L635.27,309.95 L636.35,307.66 L637.71,310.16 L638.83,308.58 L640.06,308.82 L641.23,308.09 L642.47,308.47 L643.63,307.45 L644.81,306.91 L646.17,309.48 L647.27,307.40 L648.58,309.07 L649.68,307.18 L651.03,309.54 L652.23,309.23 L653.41,308.72 L654.63,308.68 L655.80,308.03 L657.04,308.43 L658.16,306.42 L659.46,307.48 L660.75,308.52 L661.86,306.45 L663.23,308.68 L664.46,308.49 L665.60,306.89 L666.82,306.68 L668.06,306.88 L669.28,306.60 L670.63,308.47 L671.74,306.45 L672.90,305.23 L674.15,305.37 L675.50,307.29 L676.78,308.09 L677.92,306.43 L679.15,306.34 L680.39,306.46 L681.66,307.01 L682.79,305.26 L684.09,306.42 L685.31,306.18 L686.53,306.32 L687.65,304.83 L688.85,304.72 L690.09,305.22 L691.41,306.99 L692.50,305.07 L693.75,305.79 L694.90,304.79 L696.06,304.07 L697.26,303.87 L698.61,306.19 L699.81,306.00 L700.93,304.64 L702.20,305.55 L703.40,305.45 L704.65,306.09 L705.86,306.21 L706.96,304.37 L708.28,306.16 L709.48,306.00 L710.61,304.74 L711.87,305.60 L713.00,304.27 L714.19,303.79 L715.38,303.27 L716.79,305.16 L717.80,302.77 L719.00,302.37 L720.44,304.60 L721.66,304.39 L722.80,303.35 L724.12,304.36 L725.12,301.75 L726.40,302.29 L727.64,302.28 L728.90,302.58 L730.05,301.68 L731.25,301.24 L732.33,302.06 L734.35,302.16 L735.26,301.27 L735.31,299.81 L735.28,298.30 L735.35,296.86 L737.93,297.06 L737.45,295.25 L738.26,294.29 L738.36,292.87 L739.19,291.93 L740.40,291.23 L741.05,290.15 L741.72,289.06 L742.05,287.82 L742.47,286.63 L743.18,285.59 L744.00,284.61 L744.10,283.24 L744.87,282.24 L745.22,281.01 L746.21,280.17 L746.60,278.82 L747.97,278.51 L749.07,277.90 L749.39,276.39 L750.69,276.01 L751.64,275.23 L752.71,274.58 L753.43,273.58 L754.59,273.16 L755.81,273.21 L757.07,273.66 L758.28,273.50 L759.43,272.63 L760.59,271.93 L761.80,271.83 L763.00,271.56 L764.28,272.47 L765.39,271.37 L767.22,272.64 L768.35,271.77 L769.65,270.57 L770.90,271.63 L772.22,271.18 L773.50,271.65 L774.83,271.06 L776.14,271.00 L777.44,271.11 L778.72,271.64 L780.02,272.50 L781.28,271.97 L782.41,270.61 L783.87,272.04 L785.18,272.28 L786.43,271.88 L787.70,271.77 L788.74,269.75 L790.14,270.68 L791.30,269.58 L792.77,271.09 L793.87,269.53 L795.29,270.66 L796.51,269.41 L797.66,270.65 L799.02,269.92 L800.34,269.46 L801.45,270.46 L802.70,270.46 L803.72,272.04 L805.16,270.79 L806.32,271.46 L807.53,271.75 L808.62,272.88 L810.02,271.04 L811.32,272.11 L812.58,271.75 L813.93,272.15 L815.28,272.57 L816.41,270.87 L817.80,271.66 L819.04,271.11 L820.34,271.05 L821.51,269.73 L822.99,271.39 L824.24,271.64 L825.47,270.20 L826.72,270.15 L827.92,271.82 L829.25,269.74 L830.51,269.71 L831.76,269.75 L832.95,271.57 L834.21,271.49 L835.50,270.78 L836.73,271.25 L837.98,269.85 L839.25,271.26 L840.44,270.70 L841.68,270.79 L842.88,270.40 L844.11,270.35 L845.31,269.84 L846.50,269.34 L847.79,270.18 L848.98,269.64 L850.28,270.66 L851.53,270.84 L852.72,270.54 L853.91,269.89 L855.12,269.37 L856.33,269.72 L857.54,269.97 L858.75,270.32 L859.95,271.11 L861.16,269.00 L862.37,269.95 L863.58,269.98 L864.79,270.52 L866.08,270.93 L867.31,270.46 L868.45,269.90 L869.70,270.01 L870.87,269.60 L872.14,269.85 L873.28,269.27 L874.47,269.03 L875.50,267.80 L876.96,269.19 L877.85,267.77 L878.92,267.16 L880.02,266.44 L880.45,265.26 L881.16,264.28 L881.04,262.72 L881.98,261.89 L882.67,260.89 L883.42,259.94 L883.88,258.84 L884.66,257.88 L884.63,256.57 L885.26,255.50 L886.27,254.58 L886.50,253.37 L886.65,252.13 L886.73,250.87 L887.94,250.01 L888.12,248.78 L888.07,247.47 L888.60,246.37 L889.30,245.33 L889.76,244.20 L889.78,242.91 L890.88,242.07 L890.77,240.72 L891.17,239.58 L892.18,238.71 L892.01,237.33 L892.97,236.43 L892.99,235.14 L893.82,234.18 L893.99,232.95 L894.56,231.89 L895.54,231.00 L895.57,229.71 L896.01,228.59 L896.64,227.55 L897.03,226.18 L897.74,227.53 L897.98,228.84 L898.53,230.04 L899.04,231.25 L898.75,232.74 L900.06,233.67 L899.77,235.17 L900.09,236.46 L900.86,237.68 L902.04,238.71 L902.15,240.20 L903.13,241.35 L903.03,243.03 L903.37,244.56 L904.11,245.76 L904.26,244.73 L905.37,244.02 L905.66,242.78 L906.51,241.89 L907.30,240.97 L908.33,240.22 L908.60,238.93 L909.11,237.79 L910.36,237.17 L911.09,236.19 L911.55,235.02 L911.87,233.74 L912.69,232.82 L913.57,231.94 L914.40,231.03 L914.83,229.84 L916.01,229.17 L916.75,228.20 L917.52,227.25 L918.20,226.22 L918.19,224.72 L919.36,224.05 L919.64,222.79 L920.89,222.04 L921.29,220.84 L921.83,219.71 L921.85,218.33 L922.27,217.15 L923.49,216.33 L923.83,215.11 L924.38,213.98 L924.77,212.79 L925.60,211.79 L925.72,210.46 L926.19,209.30 L926.80,208.20 L927.28,207.05 L928.12,206.04 L928.60,204.82 L928.00,203.44 L928.21,202.20 L928.85,201.03 L929.23,199.82 L928.96,198.50 L929.25,197.27 L929.25,195.99 L929.44,194.74 L930.10,193.58 L930.49,192.37 L930.68,191.12 L930.40,189.80 L930.56,188.54 L931.58,187.44 L931.41,186.13 L931.49,184.87 L931.98,183.67 L932.22,182.46 L932.46,181.25 L932.47,179.93 L933.61,179.03 L933.47,177.65 L933.74,176.43 L934.46,175.37 L935.06,174.27 L935.59,173.14 L935.59,171.82 L936.53,170.85 L936.76,169.61 L936.88,168.33 L937.96,167.41 L938.35,166.23 L938.88,165.10 L939.10,163.86 L939.10,162.54 L940.06,161.57 L940.61,160.45 L940.70,159.16 L941.48,158.13 L941.97,156.99 L941.86,155.62 L942.82,154.64 L943.17,153.40 L943.38,152.14 L942.98,150.71 L943.66,149.58 L944.26,148.44 L944.60,147.22 L945.10,146.04 L945.34,144.79 L945.22,143.44 L946.31,142.43 L946.28,141.10 L946.97,139.98 L946.67,138.58 L947.78,137.57 L947.70,136.23 L948.00,135.00" fill="none" stroke="#008a00" stroke-width="2.1" stroke-dasharray="1.5 1.1"/>
<path d="M599.00,310.00 L600.32,311.36 L601.30,308.65 L602.47,308.18 L603.93,311.19 L604.92,308.49 L606.10,308.19 L607.44,309.78 L608.56,308.71 L609.90,310.34 L610.94,308.14 L612.29,310.40 L613.39,308.29 L614.65,309.12 L615.92,310.11 L617.09,309.25 L618.34,309.94 L619.51,309.19 L620.60,307.01 L621.96,309.60 L623.12,308.60 L624.28,307.64 L625.47,307.19 L626.80,309.23 L627.96,308.31 L629.24,309.37 L630.42,308.78 L631.66,309.31 L632.80,307.98 L634.03,308.33 L635.22,308.02 L636.40,306.85 L637.68,309.05 L638.82,306.95 L640.08,308.41 L641.31,308.93 L642.49,307.92 L643.65,306.26 L644.93,308.41 L646.12,307.87 L647.29,306.29 L648.48,305.82 L649.74,307.32 L650.90,305.69 L652.20,308.51 L653.37,307.13 L654.58,307.13 L655.78,306.75 L657.02,307.51 L658.30,308.27 L659.43,306.26 L660.67,306.41 L661.94,307.01 L663.12,306.04 L664.41,306.93 L665.63,306.70 L666.84,306.28 L668.11,306.99 L669.32,306.46 L670.48,304.99 L671.86,307.83 L672.99,305.72 L674.23,305.90 L675.46,305.74 L676.78,307.36 L678.01,307.37 L679.17,305.90 L680.39,305.48 L681.61,304.47 L682.96,306.98 L684.13,304.62 L685.43,305.77 L686.66,305.10 L687.91,304.98 L689.17,305.03 L690.41,304.46 L691.65,303.92 L692.96,305.47 L694.24,306.26 L695.48,305.74 L696.69,304.27 L698.00,305.80 L699.18,303.70 L700.48,304.80 L701.78,306.09 L703.04,306.35 L704.22,304.84 L705.49,306.03 L706.68,304.88 L707.91,304.93 L709.14,305.09 L710.41,306.35 L711.61,305.52 L712.81,304.62 L714.06,305.40 L715.28,305.09 L716.48,304.13 L717.74,305.47 L718.97,305.54 L720.18,304.83 L721.44,305.86 L722.57,302.87 L723.85,304.37 L725.09,304.77 L726.28,303.79 L727.53,303.21 L728.84,304.84 L730.08,303.97 L731.32,303.41 L732.56,302.64 L733.91,305.56 L735.11,303.56 L736.35,302.77 L737.62,303.04 L738.89,303.13 L740.21,305.04 L741.40,302.81 L742.67,303.08 L743.92,302.47 L745.21,303.62 L746.45,302.74 L747.72,303.14 L749.02,304.35 L750.30,304.91 L751.54,304.58 L752.70,301.99 L753.99,303.03 L755.29,304.49 L756.45,301.84 L757.72,302.34 L759.00,303.21 L760.24,302.82 L761.53,303.96 L762.77,303.81 L764.00,302.95 L765.22,302.22 L766.47,302.12 L767.72,302.19 L768.95,301.50 L770.27,303.37 L771.46,301.71 L772.78,304.00 L773.99,303.18 L775.16,301.26 L776.45,302.63 L777.70,302.92 L778.87,301.08 L780.16,302.46 L781.34,300.96 L782.66,303.27 L783.81,300.79 L785.12,302.76 L786.39,303.85 L787.62,303.36 L788.79,301.36 L790.06,302.28 L791.25,300.97 L792.51,301.58 L793.80,303.21 L795.06,303.01 L796.10,300.33 L797.43,301.41 L798.73,302.13 L799.84,300.54 L801.24,302.44 L802.50,302.62 L803.64,301.43 L804.82,300.72 L806.18,302.16 L807.32,300.99 L808.46,299.85 L809.72,300.03 L810.92,299.54 L812.33,301.61 L813.48,300.45 L814.76,300.94 L816.02,301.22 L817.30,301.62 L818.23,299.02 L819.51,299.39 L821.09,300.53 L822.18,299.86 L823.06,298.39 L824.48,298.90 L825.29,297.16 L826.45,296.74 L827.55,296.08 L829.01,296.79 L830.08,296.03 L831.50,296.58 L833.06,297.66 L833.58,294.82 L835.10,295.76 L836.54,296.39 L837.46,295.04 L838.63,294.66 L839.88,294.57 L840.84,293.55 L842.31,293.91 L843.34,293.17 L844.51,292.78 L845.65,292.30 L846.49,291.13 L847.60,290.60 L848.78,290.21 L850.04,290.00 L851.35,289.90 L852.47,289.37 L853.39,288.42 L854.61,288.11 L855.79,287.72 L856.75,286.85 L858.14,286.93 L859.26,286.40 L860.30,285.71 L861.50,285.37 L862.59,284.78 L863.68,284.13 L864.44,283.09 L865.36,282.30 L866.28,281.50 L867.11,280.59 L868.61,280.50 L868.98,279.02 L869.52,277.74 L870.91,277.52 L871.53,276.36 L873.00,276.23 L873.78,275.25 L874.49,274.19 L875.89,273.99 L876.75,273.11 L877.60,272.23 L879.24,272.32 L879.43,270.61 L880.69,270.23 L881.85,269.73 L882.85,269.02 L883.43,267.80 L884.17,266.78 L885.69,266.72 L886.36,265.61 L887.13,264.61 L888.02,263.78 L889.01,263.12 L889.80,262.22 L890.42,261.16 L891.10,260.14 L892.60,259.77 L893.22,258.70 L893.41,257.31 L894.46,256.58 L895.46,255.82 L895.98,254.67 L896.39,253.45 L897.36,252.65 L898.14,251.72 L899.31,251.09 L899.81,249.93 L900.46,248.89 L901.35,248.04 L901.62,246.75 L902.75,246.02 L903.45,245.02 L903.92,243.88 L904.23,242.67 L904.76,241.56 L905.10,240.36 L905.76,239.33 L906.41,238.30 L907.26,237.38 L908.13,236.47 L908.23,235.13 L909.04,234.19 L909.77,233.20 L910.36,232.13 L910.41,230.77 L911.79,230.14 L912.09,228.91 L912.43,227.71 L912.92,226.60 L913.87,225.73 L914.64,224.76 L914.66,223.41 L915.27,222.36 L915.96,221.36 L916.18,220.10 L916.93,219.13 L917.94,218.29 L918.17,217.04 L918.96,216.09 L919.01,214.75 L920.11,213.95 L920.58,212.83 L920.64,211.50 L921.46,210.56 L922.15,209.55 L922.60,208.42 L923.18,207.36 L923.41,206.12 L924.24,205.18 L924.62,204.01 L925.57,203.12 L925.62,201.82 L926.62,200.90 L926.69,199.62 L926.80,198.35 L927.41,197.28 L927.58,196.04 L928.59,195.12 L928.38,193.73 L929.34,192.80 L929.50,191.55 L930.38,190.58 L930.21,189.21 L931.16,188.27 L931.63,187.15 L931.62,185.84 L931.96,184.66 L932.63,183.61 L933.32,182.57 L933.40,181.29 L933.60,180.06 L934.44,179.08 L935.22,178.08 L935.05,176.70 L936.22,175.85 L936.26,174.55 L936.37,173.29 L936.75,172.13 L937.44,171.09 L937.98,169.99 L937.96,168.73 L938.16,167.52 L938.84,166.42 L938.88,165.17 L939.35,164.02 L939.63,162.83 L940.15,161.70 L940.32,160.48 L940.26,159.21 L940.49,158.00 L941.43,156.96 L940.92,155.59 L941.27,154.41 L941.50,153.21 L942.52,152.19 L942.52,150.93 L943.17,149.82 L943.16,148.56 L943.16,147.30 L943.53,146.13 L944.11,145.01 L943.90,143.70 L944.74,142.64 L944.63,141.36 L944.55,140.08 L945.13,138.96 L945.62,137.82 L945.50,136.53 L946.51,135.51 L946.81,134.32 L946.69,133.04 L947.35,131.93 L947.42,130.69 L947.56,129.46 L947.47,128.18 L948.52,127.17 L948.77,125.97 L948.59,124.67 L948.81,123.47 L948.78,122.21 L949.52,121.14 L949.96,120.00 L949.71,118.73 L949.82,117.53 L950.34,116.41 L950.73,115.26 L950.32,113.97 L950.64,112.80 L951.20,111.68 L950.81,110.40 L951.78,109.35 L951.50,108.08 L952.21,106.99 L952.05,105.74 L951.97,104.51 L952.03,103.30 L952.33,102.14 L952.68,100.98 L953.38,99.88 L953.62,98.71 L953.66,97.50 L953.55,96.26 L954.11,95.14 L954.38,93.97 L954.23,92.72 L954.16,91.49 L954.74,90.37 L954.71,89.15 L954.88,87.96 L955.29,86.81 L955.18,85.58 L956.20,84.54 L955.80,83.25 L956.61,82.17 L956.66,80.96 L956.15,79.65 L957.23,78.63 L957.35,77.43 L957.28,76.20 L957.84,75.08 L957.64,73.82 L957.40,72.56 L957.73,71.40 L958.10,70.25 L958.84,69.16 L959.02,67.97 L958.53,66.67 L958.96,65.53 L958.93,64.30 L959.26,63.14 L959.58,61.98 L959.85,60.81 L959.80,59.58 L960.50,58.49 L960.30,57.23 L961.15,56.16 L960.95,54.91 L961.10,53.72 L961.64,52.59 L961.43,51.34 L961.55,50.14 L961.63,48.94 L961.96,47.78 L962.07,46.58 L962.73,45.46 L962.52,44.22 L963.04,43.08 L962.78,41.83 L962.74,40.61 L963.14,39.45 L963.39,38.27 L964.07,37.15 L963.54,35.86 L963.71,34.67 L963.83,33.48 L964.09,32.30 L964.96,31.21 L965.09,30.01 L964.56,28.72 L964.55,27.51 L965.15,26.38 L965.42,25.20 L965.50,24.00" fill="none" stroke="#ff0000" stroke-width="2.1" stroke-dasharray="1.5 1.1"/>
<path d="M599.00,313.00 L600.16,314.41 L601.38,314.53 L602.60,314.40 L603.93,311.87 L605.08,313.54 L606.32,313.06 L607.53,313.45 L608.80,312.22 L610.01,312.47 L611.19,313.32 L612.44,312.66 L613.63,313.46 L614.91,312.13 L616.12,312.38 L617.25,314.42 L618.51,313.55 L619.74,313.88 L620.96,314.62 L622.24,313.46 L623.52,312.53 L624.69,314.89 L625.95,314.31 L627.19,314.57 L628.44,314.49 L629.65,315.64 L630.95,313.74 L632.16,315.04 L633.44,313.83 L634.66,314.52 L635.90,314.84 L637.17,313.77 L638.41,313.07 L639.64,314.29 L640.90,315.05 L642.14,314.61 L643.37,314.13 L644.63,314.73 L645.84,313.23 L647.09,313.20 L648.34,313.64 L649.61,315.19 L650.82,313.18 L652.06,312.89 L653.30,312.82 L654.54,312.60 L655.80,313.33 L657.06,314.26 L658.33,315.03 L659.53,313.40 L660.80,313.47 L662.04,313.15 L663.31,313.14 L664.64,314.59 L665.86,313.80 L667.08,312.82 L668.31,312.27 L669.67,314.38 L670.92,314.07 L672.20,314.40 L673.37,312.46 L674.67,313.38 L675.99,314.51 L677.20,313.41 L678.51,314.48 L679.65,311.94 L681.00,314.45 L682.06,311.45 L683.35,312.53 L684.50,311.21 L685.85,313.66 L687.05,313.20 L688.32,314.05 L689.51,313.44 L690.76,313.83 L691.91,312.46 L693.21,313.83 L694.38,313.00 L695.53,311.64 L696.86,313.58 L697.98,311.61 L699.23,310.99 L700.47,310.58 L701.75,311.80 L702.98,310.90 L704.28,313.23 L705.54,313.25 L706.73,310.87 L707.97,310.48 L709.25,311.81 L710.47,310.63 L711.75,311.80 L713.03,312.63 L714.23,310.80 L715.49,311.31 L716.78,312.81 L717.99,311.32 L719.16,310.88 L720.55,312.50 L721.74,312.13 L722.98,312.26 L724.12,311.48 L725.24,310.48 L726.54,311.25 L727.80,311.56 L728.95,310.83 L730.03,309.43 L731.26,309.49 L732.51,309.73 L733.84,310.76 L734.98,309.95 L736.19,309.81 L737.49,310.56 L738.49,308.15 L739.84,309.73 L740.99,308.69 L742.25,309.33 L743.53,310.12 L744.60,308.16 L745.98,310.32 L746.99,307.44 L748.31,308.90 L749.52,308.75 L750.66,307.68 L751.95,308.63 L753.14,308.26 L754.35,308.10 L755.63,308.87 L756.67,306.50 L757.97,307.61 L759.31,308.79 L760.34,306.62 L761.78,308.82 L762.80,306.59 L764.17,307.99 L765.24,306.25 L766.55,307.02 L767.76,306.81 L768.88,305.61 L770.30,307.46 L771.45,306.64 L772.74,307.19 L773.92,306.60 L775.15,306.53 L776.36,306.32 L777.51,305.47 L779.01,307.26 L779.72,304.42 L781.53,306.58 L782.75,306.25 L783.70,304.82 L785.13,305.39 L786.28,304.78 L787.45,304.27 L788.44,303.00 L789.69,302.80 L790.94,302.59 L792.13,302.15 L793.84,303.91 L794.61,301.69 L795.87,301.54 L797.11,301.34 L798.58,302.30 L799.62,301.09 L800.87,301.18 L801.98,300.09 L803.22,300.02 L804.37,299.28 L805.64,299.54 L806.89,299.54 L808.33,301.27 L809.43,300.01 L810.50,298.62 L811.86,299.60 L812.96,298.37 L814.35,299.64 L815.53,299.10 L816.91,300.28 L817.90,298.24 L819.42,299.92 L820.38,297.83 L821.98,299.96 L823.06,298.67 L824.03,296.62 L825.65,298.85 L826.64,296.98 L827.93,297.06 L829.08,296.19 L830.66,298.19 L831.56,295.64 L833.11,297.50 L834.20,296.23 L835.59,296.94 L836.65,295.53 L837.61,294.71 L839.69,296.67 L840.30,295.08 L841.21,294.11 L842.67,294.31 L843.76,293.73 L844.57,292.54 L845.62,291.86 L846.99,291.87 L847.90,290.91 L849.28,290.92 L850.28,290.15 L851.50,289.84 L852.56,289.18 L853.76,288.83 L854.90,288.35 L855.93,287.62 L857.05,287.08 L857.89,286.09 L858.76,285.16 L859.73,284.36 L861.20,284.19 L861.79,282.90 L862.92,282.30 L863.85,281.44 L865.03,280.90 L865.97,280.06 L867.48,279.94 L867.85,278.37 L868.73,277.45 L870.15,277.23 L871.29,276.63 L872.55,276.20 L872.64,274.26 L874.48,274.58 L875.61,273.99 L876.55,273.26 L876.54,270.89 L877.94,270.76 L879.51,270.94 L880.44,270.01 L881.14,268.68 L882.41,268.35 L883.67,267.99 L884.78,267.37 L885.76,266.54 L886.69,265.61 L887.88,265.14 L888.80,264.19 L890.03,263.77 L891.18,263.22 L892.47,262.92 L893.45,262.07 L894.34,261.06 L895.23,260.05 L896.28,259.22 L897.51,258.61 L898.36,257.56 L899.00,256.49 L900.30,256.05 L900.96,255.00 L902.07,254.39 L902.59,253.21 L903.49,252.38 L904.18,251.37 L905.15,250.61 L906.20,249.94 L907.08,249.10 L907.68,247.99 L908.34,246.96 L908.55,245.72 L909.79,244.99 L909.93,243.70 L910.46,242.61 L910.71,241.39 L911.23,240.29 L912.09,239.37 L913.16,238.55 L913.49,237.36 L914.00,236.26 L914.51,235.16 L914.70,233.90 L915.14,232.71 L916.07,231.74 L916.12,230.35 L917.13,229.42 L917.61,228.24 L918.17,227.09 L918.33,225.76 L918.82,224.59 L919.72,223.60 L919.96,222.31 L920.95,221.37 L921.19,220.07 L922.01,219.04 L922.51,217.92 L922.75,216.72 L923.05,215.54 L923.11,214.28 L923.62,213.16 L924.60,212.20 L924.30,210.82 L924.68,209.67 L925.26,208.58 L925.68,207.44 L926.29,206.35 L926.19,205.04 L927.20,204.09 L926.68,202.64 L927.78,201.72 L927.95,200.50 L928.63,199.44 L928.30,198.05 L929.18,197.06 L929.78,195.95 L929.87,194.70 L929.69,193.36 L930.81,192.42 L931.21,191.25 L930.74,189.83 L931.78,188.86 L931.42,187.47 L931.78,186.29 L932.81,185.32 L933.09,184.12 L933.67,183.01 L933.71,181.74 L933.95,180.53 L934.08,179.29 L934.72,178.20 L935.00,177.00" fill="none" stroke="#0000ff" stroke-width="2.1" stroke-dasharray="1.5 1.1"/>
<path d="M599.00,312.00 L600.22,312.68 L601.44,313.09 L602.67,310.98 L603.89,313.59 L605.11,311.02 L606.33,312.55 L607.56,310.69 L608.78,312.82 L609.98,310.88 L611.28,312.62 L612.54,312.64 L613.81,312.73 L615.04,311.66 L616.34,312.98 L617.61,313.33 L618.79,310.50 L620.09,311.74 L621.40,313.12 L622.63,312.38 L623.87,311.39 L625.11,310.91 L626.44,312.94 L627.61,310.13 L628.94,312.25 L630.21,312.48 L631.41,310.24 L632.71,310.75 L633.94,310.75 L635.09,311.58 L636.33,311.10 L637.42,312.85 L638.62,313.02 L639.94,311.15 L641.02,313.08 L642.38,310.51 L643.58,310.68 L644.67,312.56 L645.84,313.07 L647.04,313.20 L648.20,313.83 L649.43,313.48 L650.75,311.66 L651.85,313.25 L653.02,313.91 L654.38,311.33 L655.50,312.68 L656.70,311.54 L657.95,311.45 L659.25,312.47 L660.52,313.02 L661.82,313.94 L662.95,311.19 L664.25,312.33 L665.57,313.85 L666.79,313.05 L668.00,312.25 L669.21,311.27 L670.52,312.45 L671.72,311.21 L673.02,312.38 L674.27,312.34 L675.48,311.46 L676.79,312.70 L677.98,311.39 L679.23,311.51 L680.56,312.57 L681.66,310.62 L682.88,310.32 L684.21,311.47 L685.42,310.92 L686.76,312.23 L687.85,310.14 L689.12,310.44 L690.28,309.34 L691.62,310.50 L692.82,309.97 L694.09,310.31 L695.41,311.22 L696.47,308.81 L697.94,311.75 L699.11,310.77 L700.39,310.99 L701.51,310.00 L702.72,309.99 L703.85,309.33 L705.04,309.16 L706.18,308.48 L707.40,308.62 L708.59,308.46 L709.80,308.47 L711.19,310.16 L712.35,309.69 L713.49,309.06 L714.47,306.95 L715.75,307.60 L717.04,308.37 L718.29,308.72 L719.39,307.72 L720.66,308.27 L721.94,309.02 L722.91,306.86 L724.15,307.05 L725.52,308.08 L726.52,306.50 L727.90,307.61 L728.95,306.41 L729.98,305.04 L731.38,306.27 L732.40,304.84 L733.93,306.94 L735.16,306.96 L736.21,305.78 L737.58,306.78 L738.47,304.43 L739.78,305.00 L740.85,303.97 L741.99,303.39 L743.55,305.67 L744.39,303.06 L745.91,305.69 L747.05,304.46 L748.31,304.91 L749.53,302.81 L750.82,305.54 L752.06,305.16 L753.28,302.93 L754.54,303.17 L755.78,303.02 L757.05,304.16 L758.28,302.79 L759.56,305.07 L760.80,304.09 L762.06,304.74 L763.29,303.28 L764.56,304.54 L765.80,303.88 L767.06,304.49 L768.29,303.71 L769.66,305.48 L770.88,304.94 L772.14,304.81 L773.29,303.16 L774.51,302.60 L775.76,302.39 L777.01,302.24 L778.44,304.83 L779.55,302.55 L780.93,304.35 L782.05,302.23 L783.39,303.38 L784.57,302.12 L785.84,302.22 L787.19,303.54 L788.41,303.01 L789.74,304.01 L790.81,301.66 L792.00,301.58 L793.10,300.74 L794.39,301.03 L795.98,303.26 L796.98,301.75 L798.15,301.29 L799.29,300.67 L800.71,301.81 L801.89,301.39 L802.83,299.52 L803.99,298.98 L805.26,299.19 L806.79,301.04 L807.96,300.58 L808.92,298.79 L810.14,298.63 L811.38,298.67 L812.78,299.66 L814.04,299.68 L814.96,297.84 L816.24,297.89 L817.41,297.36 L819.06,299.34 L820.04,297.87 L821.50,298.85 L822.30,296.42 L823.76,297.41 L824.94,296.97 L826.39,297.87 L827.26,295.85 L828.40,295.18 L829.98,296.79 L831.29,296.98 L832.24,295.34 L833.35,294.55 L834.60,294.43 L835.88,294.55 L837.19,294.52 L838.09,293.53 L839.26,293.14 L840.42,292.78 L841.42,292.01 L842.50,291.42 L843.78,291.33 L845.08,291.27 L846.17,290.71 L847.07,289.72 L848.38,289.69 L849.53,289.27 L850.56,288.57 L851.60,287.89 L852.66,287.27 L853.98,287.27 L855.10,286.78 L856.04,285.88 L857.14,285.34 L858.20,284.87 L859.58,284.69 L860.58,283.98 L861.33,282.92 L862.36,282.23 L863.39,281.54 L864.02,280.35 L865.24,279.89 L866.10,278.99 L867.70,279.02 L867.63,276.93 L869.61,277.45 L869.54,275.36 L871.21,275.48 L872.60,275.25 L872.36,272.95 L873.94,272.95 L874.20,271.28 L875.92,271.47 L876.86,270.66 L878.54,270.80 L878.81,269.14 L880.49,269.10 L880.76,267.56 L881.63,266.65 L882.03,265.36 L882.62,264.21 L883.82,263.57 L884.21,262.25 L885.43,261.69 L885.93,260.48 L887.08,259.87 L888.03,259.08 L889.01,258.31 L889.28,256.90 L890.09,255.98 L891.11,255.25 L892.35,254.72 L892.65,253.33 L893.65,252.58 L894.41,251.62 L895.01,250.50 L896.20,249.93 L896.87,248.86 L897.89,248.17 L898.99,247.57 L899.85,246.70 L900.49,245.58 L901.67,245.07 L902.51,244.18 L903.58,243.55 L903.99,242.17 L905.08,241.57 L906.26,241.06 L907.10,240.16 L907.97,239.32 L908.91,238.53 L909.89,237.77 L910.61,236.71 L911.29,235.66 L911.84,234.53 L912.56,233.49 L912.87,232.24 L913.11,230.94 L913.89,229.94 L914.92,229.07 L915.44,227.93 L915.91,226.76 L916.07,225.42 L916.70,224.34 L917.74,223.47 L918.13,222.26 L918.53,221.05 L919.81,220.33 L919.76,218.87 L920.97,218.10 L921.31,216.86 L922.20,215.92 L922.64,214.73 L922.73,213.38 L923.15,212.26 L924.15,211.33 L924.15,210.04 L924.62,208.92 L925.25,207.86 L925.52,206.66 L926.03,205.56 L926.25,204.35 L926.42,203.12 L927.24,202.12 L927.08,200.78 L928.05,199.83 L928.52,198.71 L928.31,197.35 L928.58,196.16 L929.84,195.31 L929.56,193.93 L930.29,192.90 L930.46,191.67 L930.72,190.48 L931.24,189.37 L931.47,188.16 L932.60,187.28 L932.93,186.11 L933.35,184.97 L933.15,183.61 L933.72,182.52 L933.91,181.30 L935.02,180.41 L935.55,179.30 L935.93,178.13 L936.14,176.91 L936.23,175.68 L936.44,174.47 L936.38,173.20 L936.61,172.00 L937.49,170.98 L938.13,169.89 L938.46,168.72 L938.23,167.40 L938.65,166.26 L939.31,165.17 L939.04,163.84 L939.79,162.79 L939.97,161.58 L940.12,160.36 L940.39,159.17 L940.48,157.94 L940.78,156.76 L941.24,155.62 L942.22,154.63 L942.37,153.41 L941.90,152.02 L942.94,151.04 L942.65,149.71 L943.39,148.64 L944.03,147.56 L944.33,146.38 L944.62,145.20 L945.04,144.05 L945.00,142.78 L944.73,141.45 L945.26,140.34 L945.98,139.27 L946.22,138.07 L946.84,136.98 L946.43,135.62 L947.44,134.62 L947.45,133.37 L947.78,132.20 L947.63,130.92 L948.08,129.78 L948.46,128.62 L948.91,127.47 L949.06,126.27 L949.24,125.07 L949.53,123.89 L949.40,122.63 L949.60,121.44 L950.46,120.36 L950.38,119.11 L950.49,117.90 L951.11,116.78 L951.23,115.57 L951.31,114.36 L951.78,113.21 L951.42,111.91 L952.17,110.82 L952.05,109.56 L952.12,108.34 L952.32,107.15 L952.19,105.89 L953.24,104.85 L953.54,103.68 L953.18,102.38 L953.96,101.29 L953.38,99.95 L953.92,98.82 L954.67,97.72 L954.53,96.47 L954.29,95.19 L954.98,94.08 L954.60,92.78 L955.51,91.72 L955.59,90.50 L955.87,89.32 L956.12,88.13 L955.77,86.83 L956.77,85.79 L956.87,84.57 L957.22,83.40 L956.79,82.09 L957.01,80.90 L957.71,79.80 L958.13,78.64 L958.01,77.39 L957.91,76.14 L958.32,74.98 L958.60,73.80" fill="none" stroke="#000" stroke-width="2.1" stroke-dasharray="1.5 1.1"/>
<path d="M884.50,262.50 L902.70,254.80 L915.00,251.00 L925.30,248.60 L934.00,246.30 L943.30,236.50 L952.00,218.00 L955.00,190.00 L959.00,156.60 L962.00,115.00 L964.20,86.70" fill="none" stroke="#000" stroke-width="2.1" stroke-dasharray="1.5 1.1"/>
<path d="M657.0,302.9 L661.5,310.9 L652.5,310.9Z" fill="#008000"/>
<path d="M685.3,301.2 L689.8,309.2 L680.8,309.2Z" fill="#008000"/>
<path d="M713.0,299.5 L717.5,307.5 L708.5,307.5Z" fill="#008000"/>
<path d="M740.8,285.0 L745.3,293.0 L736.3,293.0Z" fill="#008000"/>
<path d="M768.3,266.6 L772.8,274.6 L763.8,274.6Z" fill="#008000"/>
<path d="M796.5,264.9 L801.0,272.9 L792.0,272.9Z" fill="#008000"/>
<path d="M824.2,265.5 L828.7,273.5 L819.7,273.5Z" fill="#008000"/>
<path d="M852.7,264.9 L857.2,272.9 L848.2,272.9Z" fill="#008000"/>
<path d="M894.9,230.8 L899.4,238.8 L890.4,238.8Z" fill="#008000"/>
<path d="M902.7,236.5 L907.2,244.5 L898.2,244.5Z" fill="#008000"/>
<path d="M920.0,218.2 L924.5,226.2 L915.5,226.2Z" fill="#008000"/>
<path d="M928.0,201.2 L932.5,209.2 L923.5,209.2Z" fill="#008000"/>
<path d="M932.0,177.6 L936.5,185.6 L927.5,185.6Z" fill="#008000"/>
<path d="M942.4,149.7 L946.9,157.7 L937.9,157.7Z" fill="#008000"/>
<rect x="630.5" y="304.2" width="7" height="7" fill="#f00"/>
<rect x="676.9" y="302.3" width="7" height="7" fill="#f00"/>
<rect x="722.8" y="300.8" width="7" height="7" fill="#f00"/>
<rect x="768.0" y="299.3" width="7" height="7" fill="#f00"/>
<rect x="814.9" y="296.5" width="7" height="7" fill="#f00"/>
<rect x="860.1" y="280.5" width="7" height="7" fill="#f00"/>
<rect x="885.7" y="259.8" width="7" height="7" fill="#f00"/>
<rect x="898.5" y="243.5" width="7" height="7" fill="#f00"/>
<rect x="909.1" y="224.3" width="7" height="7" fill="#f00"/>
<rect x="921.8" y="199.5" width="7" height="7" fill="#f00"/>
<rect x="934.5" y="166.5" width="7" height="7" fill="#f00"/>
<rect x="945.7" y="118.8" width="7" height="7" fill="#f00"/>
<rect x="958.5" y="45.5" width="7" height="7" fill="#f00"/>
<path d="M618.5,309.4 L622.9,313.8 L618.5,318.2 L614.1,313.8Z" fill="#00f"/>
<path d="M638.4,310.0 L642.8,314.4 L638.4,318.8 L634.0,314.4Z" fill="#00f"/>
<path d="M658.3,309.6 L662.7,314.0 L658.3,318.4 L653.9,314.0Z" fill="#00f"/>
<path d="M679.7,308.6 L684.1,313.0 L679.7,317.4 L675.3,313.0Z" fill="#00f"/>
<path d="M698.0,307.6 L702.4,312.0 L698.0,316.4 L693.6,312.0Z" fill="#00f"/>
<path d="M718.0,307.1 L722.4,311.5 L718.0,315.9 L713.6,311.5Z" fill="#00f"/>
<path d="M738.6,305.0 L743.0,309.4 L738.6,313.8 L734.2,309.4Z" fill="#00f"/>
<path d="M758.0,303.6 L762.4,308.0 L758.0,312.4 L753.6,308.0Z" fill="#00f"/>
<path d="M778.8,301.6 L783.2,306.0 L778.8,310.4 L774.4,306.0Z" fill="#00f"/>
<path d="M798.4,296.9 L802.8,301.3 L798.4,305.7 L794.0,301.3Z" fill="#00f"/>
<path d="M818.0,295.1 L822.4,299.5 L818.0,303.9 L813.6,299.5Z" fill="#00f"/>
<path d="M837.8,291.8 L842.2,296.2 L837.8,300.6 L833.4,296.2Z" fill="#00f"/>
<path d="M857.0,282.6 L861.4,287.0 L857.0,291.4 L852.6,287.0Z" fill="#00f"/>
<path d="M875.9,267.9 L880.3,272.3 L875.9,276.7 L871.5,272.3Z" fill="#00f"/>
<path d="M898.4,253.2 L902.8,257.6 L898.4,262.0 L894.0,257.6Z" fill="#00f"/>
<path d="M908.4,242.6 L912.8,247.0 L908.4,251.4 L904.0,247.0Z" fill="#00f"/>
<path d="M914.9,229.6 L919.3,234.0 L914.9,238.4 L910.5,234.0Z" fill="#00f"/>
<path d="M921.9,214.6 L926.3,219.0 L921.9,223.4 L917.5,219.0Z" fill="#00f"/>
<path d="M929.0,192.6 L933.4,197.0 L929.0,201.4 L924.6,197.0Z" fill="#00f"/>
<path d="M935.0,172.6 L939.4,177.0 L935.0,181.4 L930.6,177.0Z" fill="#00f"/>
<ellipse cx="610.0" cy="312.0" rx="3.91" ry="4.20" fill="#000"/>
<ellipse cx="632.7" cy="311.3" rx="3.91" ry="4.20" fill="#000"/>
<ellipse cx="655.5" cy="312.7" rx="3.91" ry="4.20" fill="#000"/>
<ellipse cx="678.0" cy="311.7" rx="3.91" ry="4.20" fill="#000"/>
<ellipse cx="700.3" cy="310.0" rx="3.91" ry="4.20" fill="#000"/>
<ellipse cx="723.0" cy="307.6" rx="3.91" ry="4.20" fill="#000"/>
<ellipse cx="745.8" cy="304.3" rx="3.91" ry="4.20" fill="#000"/>
<ellipse cx="768.3" cy="304.0" rx="3.91" ry="4.20" fill="#000"/>
<ellipse cx="790.9" cy="302.5" rx="3.91" ry="4.20" fill="#000"/>
<ellipse cx="813.9" cy="298.9" rx="3.91" ry="4.20" fill="#000"/>
<ellipse cx="835.9" cy="294.6" rx="3.91" ry="4.20" fill="#000"/>
<ellipse cx="858.4" cy="285.2" rx="3.91" ry="4.20" fill="#000"/>
<ellipse cx="879.8" cy="268.4" rx="3.91" ry="4.20" fill="#000"/>
<ellipse cx="884.5" cy="262.5" rx="3.91" ry="4.20" fill="#000"/>
<ellipse cx="897.0" cy="249.0" rx="3.91" ry="4.20" fill="#000"/>
<ellipse cx="909.8" cy="237.7" rx="3.91" ry="4.20" fill="#000"/>
<ellipse cx="923.0" cy="213.5" rx="3.91" ry="4.20" fill="#000"/>
<ellipse cx="935.5" cy="178.0" rx="3.91" ry="4.20" fill="#000"/>
<ellipse cx="948.0" cy="131.0" rx="3.91" ry="4.20" fill="#000"/>
<ellipse cx="958.6" cy="73.8" rx="3.91" ry="4.20" fill="#000"/>
<ellipse cx="902.7" cy="254.8" rx="3.91" ry="4.20" fill="#000"/>
<ellipse cx="925.3" cy="248.6" rx="3.91" ry="4.20" fill="#000"/>
<ellipse cx="934.0" cy="246.3" rx="3.91" ry="4.20" fill="#000"/>
<ellipse cx="943.3" cy="236.5" rx="3.91" ry="4.20" fill="#000"/>
<ellipse cx="952.0" cy="218.0" rx="3.91" ry="4.20" fill="#000"/>
<ellipse cx="959.0" cy="156.6" rx="3.91" ry="4.20" fill="#000"/>
<ellipse cx="964.2" cy="86.7" rx="3.91" ry="4.20" fill="#000"/>
</g></svg>
<line x1="670" y1="67.2" x2="711" y2="67.2" stroke="#000" stroke-width="1.5" stroke-dasharray="1.2 1.0"/>
<ellipse cx="669.8" cy="67.2" rx="3.44" ry="3.70" fill="#000"/>
<ellipse cx="710.7" cy="67.2" rx="3.44" ry="3.70" fill="#000"/>
<line x1="670" y1="91.7" x2="711" y2="91.7" stroke="#f00" stroke-width="1.5" stroke-dasharray="1.2 1.0"/>
<rect x="667.0" y="88.5" width="6.5" height="6.5" fill="#f00"/>
<rect x="707.5" y="88.5" width="6.5" height="6.5" fill="#f00"/>
<line x1="670" y1="115.9" x2="711" y2="115.9" stroke="#00f" stroke-width="1.5" stroke-dasharray="1.2 1.0"/>
<path d="M669.8,111.6 L674.1,115.9 L669.8,120.2 L665.5,115.9Z" fill="#00f"/>
<path d="M710.7,111.6 L715.0,115.9 L710.7,120.2 L706.4,115.9Z" fill="#00f"/>
<line x1="670" y1="136" x2="711" y2="136" stroke="#008a00" stroke-width="1.5" stroke-dasharray="1.2 1.0"/>
<path d="M669.8,130.2 L674.3,138.2 L665.3,138.2Z" fill="#008000"/>
<path d="M710.7,130.2 L715.2,138.2 L706.2,138.2Z" fill="#008000"/>
<text transform="matrix(0.14884 0 0 0.14149 722.458 72.029)" font-family="Liberation Sans" font-weight="normal" font-size="100" fill="#000">poly (dA)</text>
<text transform="matrix(0.14803 0 0 0.14255 722.464 96.506)" font-family="Liberation Sans" font-weight="normal" font-size="100" fill="#000">poly (dT)</text>
<text transform="matrix(0.14383 0 0 0.15857 722.769 121.241)" font-family="Liberation Sans" font-weight="normal" font-size="100" fill="#000">ssDNA</text>
<text transform="matrix(0.14103 0 0 0.14865 722.936 141.751)" font-family="Liberation Sans" font-weight="normal" font-size="100" fill="#000">dsDNA</text>
</svg>
</body></html>
